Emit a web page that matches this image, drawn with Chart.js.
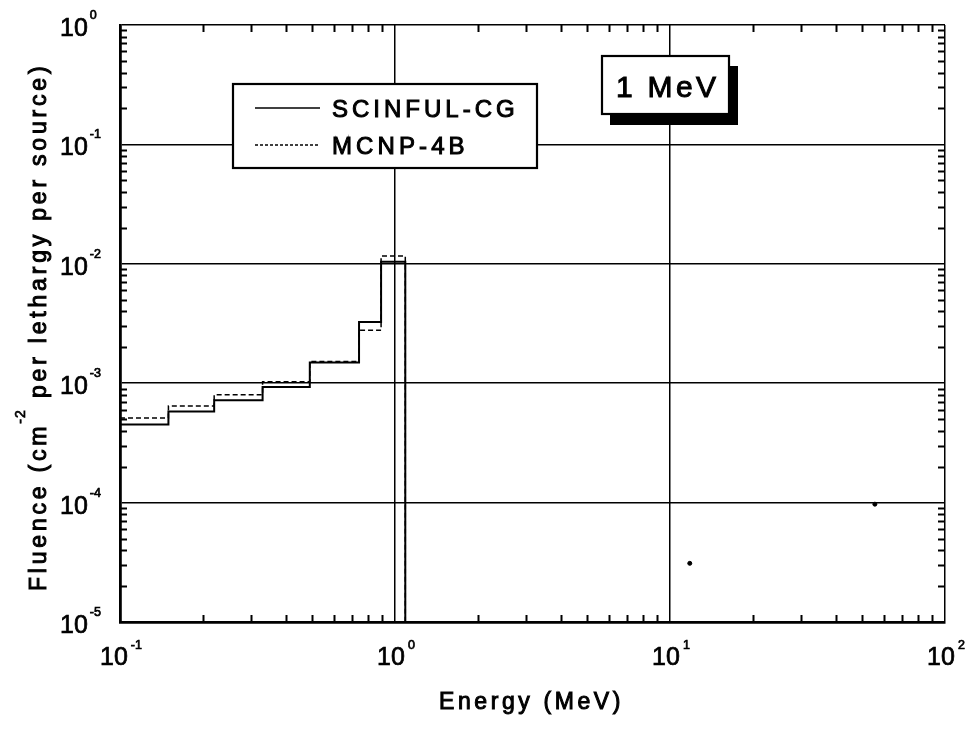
<!DOCTYPE html>
<html>
<head>
<meta charset="utf-8">
<script src="https://cdn.jsdelivr.net/npm/chart.js@4.4.0/dist/chart.umd.min.js"></script>
<style>
html, body { margin: 0; padding: 0; background: #fff; }
#caixa { width: 969px; height: 730px; }
</style>
</head>
<body>
<div id="caixa"><canvas id="grafico"></canvas></div>
<script>
// bordas dos bins de energia (MeV) e fluencia por bin
const bordas = [0.1, 0.15, 0.22, 0.33, 0.49, 0.74, 0.89, 1.09];
const scinful = [4.5e-4, 5.8e-4, 7.2e-4, 9.3e-4, 1.49e-3, 3.26e-3, 1.04e-2];
const mcnp = [5.1e-4, 6.45e-4, 8.0e-4, 1.03e-3, 1.52e-3, 2.78e-3, 1.16e-2];
// dois pontinhos soltos no grafico
const pontosX = [11.8, 55.6];
const pontosY = [3.1e-5, 9.7e-5];
const decadasX = [0.1, 1, 10, 100];
const decadasY = [1e-5, 1e-4, 1e-3, 1e-2, 1e-1, 1];

const fonte = "'Liberation Sans', Arial, sans-serif";

function montarDegraus(valores) {
    var lista = [];
    for (i = 0; i < valores.length; i++) {
        lista.push({ x: bordas[i], y: valores[i] });
    }
    // cai para fora do eixo no ultimo bin
    lista.push({ x: bordas[bordas.length - 1], y: 1e-7 });
    return lista;
}

function expoente(v) {
    return Math.round(Math.log10(v));
}

// texto um pouco mais grosso, com espacamento entre letras
function texto(ctx, s, x, y, tam, espaco, grossura) {
    ctx.font = `${tam}px ${fonte}`;
    ctx.letterSpacing = (espaco || 0) + 'px';
    ctx.fillText(s, x, y);
    ctx.lineWidth = grossura || 0.7;
    ctx.strokeText(s, x, y);
    var w = ctx.measureText(s).width;
    ctx.letterSpacing = '0px';
    return w;
}

function largura(ctx, s, tam, espaco) {
    ctx.font = `${tam}px ${fonte}`;
    ctx.letterSpacing = (espaco || 0) + 'px';
    var w = ctx.measureText(s).width;
    ctx.letterSpacing = '0px';
    return w;
}

const eixosPlugin = {
    id: 'eixosPlugin',
    afterDatasetsDraw(chart) {
        const ctx = chart.ctx;
        const a = chart.chartArea;
        const sx = chart.scales.x;
        const sy = chart.scales.y;
        ctx.save();
        ctx.strokeStyle = '#000';
        ctx.fillStyle = '#000';
        ctx.lineWidth = 2;

        // marcas menores para dentro nos quatro lados
        ctx.beginPath();
        for (d of decadasX.slice(0, -1)) {
            for (k = 2; k < 10; k++) {
                var px = Math.round(sx.getPixelForValue(d * k)) + 0.5;
                ctx.moveTo(px, a.bottom); ctx.lineTo(px, a.bottom - 7);
                ctx.moveTo(px, a.top); ctx.lineTo(px, a.top + 7);
            }
        }
        for (d of decadasY.slice(0, -1)) {
            for (k = 2; k < 10; k++) {
                var py = Math.round(sy.getPixelForValue(d * k)) + 0.5;
                ctx.moveTo(a.left, py); ctx.lineTo(a.left + 7, py);
                ctx.moveTo(a.right, py); ctx.lineTo(a.right - 7, py);
            }
        }
        ctx.stroke();

        ctx.textAlign = 'left';
        ctx.textBaseline = 'alphabetic';

        // rotulos das decadas no eixo y
        for (v of decadasY) {
            var py = sy.getPixelForValue(v);
            var w = texto(ctx, '10', 60, py + 11, 25);
            texto(ctx, String(expoente(v)), 60 + w + 2, py - 6, 12.5);
        }
        // rotulos das decadas no eixo x
        for (v of decadasX) {
            var px = sx.getPixelForValue(v);
            var e = String(expoente(v));
            var total = largura(ctx, '10', 25) + 3 + largura(ctx, e, 12.5);
            var x0 = px + 1 - total / 2;
            var w = texto(ctx, '10', x0, 665, 25);
            texto(ctx, e, x0 + w + 3, 649, 12.5);
        }

        // titulo do eixo x
        texto(ctx, 'Energy (MeV)', 439, 709, 23, 3.6, 1);

        // titulo do eixo y, girado, com cm^-2
        ctx.save();
        ctx.translate(46, 591);
        ctx.rotate(-Math.PI / 2);
        var w1 = texto(ctx, 'Fluence (cm', 0, 0, 23, 3.8, 1);
        var w2 = texto(ctx, '-2', w1 - 1, -21, 14, 1);
        texto(ctx, ' per lethargy per source)', w1 + w2, 0, 23, 3.8, 1);
        ctx.restore();

        // legenda
        ctx.fillStyle = '#fff';
        ctx.fillRect(233, 84, 304, 84);
        ctx.lineWidth = 2.2;
        ctx.strokeRect(233, 84, 304, 84);
        ctx.beginPath();
        ctx.lineWidth = 1.5;
        ctx.moveTo(255, 108); ctx.lineTo(320, 108);
        ctx.stroke();
        ctx.setLineDash([3, 2]);
        ctx.beginPath();
        ctx.moveTo(255, 145); ctx.lineTo(320, 145);
        ctx.stroke();
        ctx.setLineDash([]);
        ctx.fillStyle = '#000';
        texto(ctx, chart.data.datasets[0].label, 332, 117, 24, 4, 1);
        texto(ctx, chart.data.datasets[1].label, 332, 154, 24, 4.1, 1);

        // caixa "1 MeV" com sombra
        ctx.fillRect(610, 66, 128, 59);
        ctx.fillStyle = '#fff';
        ctx.fillRect(602, 56, 127, 58);
        ctx.lineWidth = 2.2;
        ctx.strokeRect(602, 56, 127, 58);
        ctx.fillStyle = '#000';
        texto(ctx, '1 MeV', 616, 97, 30, 3.3, 1);

        ctx.restore();
    }
};

const config = {
    type: 'line',
    data: {
        datasets: [{
            label: 'SCINFUL-CG',
            data: montarDegraus(scinful),
            stepped: 'before',
            borderColor: '#000',
            borderWidth: 2,
            pointRadius: 0,
            fill: false
        }, {
            label: 'MCNP-4B',
            data: montarDegraus(mcnp),
            stepped: 'before',
            borderColor: '#000',
            borderWidth: 1.5,
            borderDash: [5, 3],
            pointRadius: 0,
            fill: false
        }, {
            label: 'pontos',
            type: 'scatter',
            data: pontosX.map((x, i) => ({ x: x, y: pontosY[i] })),
            pointRadius: 2,
            backgroundColor: '#000',
            borderColor: '#000'
        }]
    },
    options: {
        responsive: false,
        animation: false,
        events: [],
        layout: { padding: { left: 120, right: 24, top: 25, bottom: 108 } },
        plugins: { legend: { display: false }, tooltip: { enabled: false } },
        scales: {
            x: {
                type: 'logarithmic',
                min: 0.1,
                max: 100,
                afterBuildTicks: (s) => { s.ticks = decadasX.map(v => ({ value: v, major: true })); },
                ticks: { display: false },
                grid: { color: '#000', lineWidth: 1.5, drawTicks: false },
                border: { color: '#000', width: 2.8 }
            },
            y: {
                type: 'logarithmic',
                min: 1e-5,
                max: 1,
                afterBuildTicks: (s) => { s.ticks = decadasY.map(v => ({ value: v, major: true })); },
                ticks: { display: false },
                grid: { color: '#000', lineWidth: 1.5, drawTicks: false },
                border: { color: '#000', width: 2.8 }
            }
        }
    },
    plugins: [eixosPlugin]
};

const canvas = document.getElementById('grafico');
canvas.width = 969;
canvas.height = 730;
let myChart = new Chart(canvas, config);
</script>
</body>
</html>
